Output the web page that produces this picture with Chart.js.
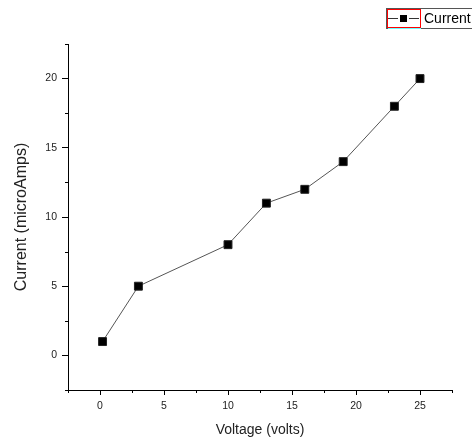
<!DOCTYPE html>
<html lang="en">
  <head>
    <meta charset="UTF-8" />
    <title>Current vs Voltage</title>
    <script src="https://cdn.jsdelivr.net/npm/chart.js@4.4.0/dist/chart.umd.min.js"></script>
    <style>
      html,
      body {
        margin: 0;
        padding: 0;
        background: #fff;
      }
    </style>
  </head>
  <body>
    <div style="width: 472px; height: 443px">
      <canvas id="iv-curve"></canvas>
    </div>
    <script>
      const voltage = [0.2, 3, 10, 13, 16, 19, 23, 25];
      const current = [1, 5, 8, 11, 12, 14, 18, 20];
      const xTicks = [0, 5, 10, 15, 20, 25];
      const yTicks = [0, 5, 10, 15, 20];
      const seriesName = 'Current';

      const points = voltage.map((v, i) => ({ x: v, y: current[i] }));

      // minor ticks half way between the labelled ones + the legend box
      const extras = {
        id: 'extras',
        afterDraw(chart) {
          const ctx = chart.ctx;
          const xs = chart.scales.x;
          const ys = chart.scales.y;
          const area = chart.chartArea;
          ctx.save();
          ctx.strokeStyle = '#000';
          ctx.lineWidth = 1;
          ctx.beginPath();
          for (let v = xs.min; v <= xs.max + 0.01; v += 5) {
            const px = Math.round(xs.getPixelForValue(v)) + 0.5;
            ctx.moveTo(px, area.bottom);
            ctx.lineTo(px, area.bottom + 3);
          }
          for (let v = ys.min; v <= ys.max + 0.01; v += 5) {
            const py = Math.round(ys.getPixelForValue(v)) + 0.5;
            ctx.moveTo(area.left, py);
            ctx.lineTo(area.left - 3, py);
          }
          ctx.stroke();

          // legend
          ctx.strokeStyle = '#555';
          ctx.strokeRect(386.5, 8.5, 92, 20);
          ctx.strokeStyle = '#ff0000';
          ctx.strokeRect(387.5, 9.5, 33, 18);
          ctx.strokeStyle = '#66ffff';
          ctx.beginPath();
          ctx.moveTo(388, 28.5);
          ctx.lineTo(421, 28.5);
          ctx.stroke();
          ctx.strokeStyle = '#333';
          ctx.beginPath();
          ctx.moveTo(388, 18.5);
          ctx.lineTo(398, 18.5);
          ctx.moveTo(409, 18.5);
          ctx.lineTo(419, 18.5);
          ctx.stroke();
          ctx.fillStyle = '#000';
          ctx.fillRect(400, 15, 7, 7);
          ctx.font = '14px "Liberation Sans", Arial';
          ctx.textBaseline = 'middle';
          ctx.fillText(seriesName, 424, 19);
          ctx.restore();
        },
      };

      new Chart(document.getElementById('iv-curve'), {
        type: 'scatter',
        data: {
          datasets: [
            {
              label: seriesName,
              data: points,
              showLine: true,
              borderColor: '#555',
              borderWidth: 1,
              pointStyle: 'rect',
              pointRadius: 5.6,
              pointHoverRadius: 5.6,
              pointBackgroundColor: '#000',
              pointBorderColor: '#222',
              pointBorderWidth: 1,
            },
          ],
        },
        options: {
          responsive: true,
          maintainAspectRatio: false,
          animation: false,
          layout: { padding: { top: 44, right: 20, left: 0, bottom: 0 } },
          plugins: {
            legend: { display: false },
            tooltip: { enabled: false },
          },
          scales: {
            x: {
              type: 'linear',
              min: -2.5,
              max: 27.5,
              afterFit: (s) => {
                s.height = 53;
              },
              afterBuildTicks: (s) => {
                s.ticks = xTicks.map((v) => ({ value: v }));
              },
              border: { display: true, color: '#000', width: 1 },
              grid: {
                display: true,
                drawOnChartArea: false,
                drawTicks: true,
                tickLength: 5,
                tickColor: '#000',
              },
              ticks: {
                padding: 5,
                color: '#222',
                font: { family: '"Liberation Sans", Arial', size: 10.5 },
                maxRotation: 0,
              },
              title: {
                display: true,
                text: 'Voltage (volts)',
                color: '#222',
                padding: { top: 0, bottom: 4 },
                font: { family: '"Liberation Sans", Arial', size: 14 },
              },
            },
            y: {
              type: 'linear',
              min: -2.5,
              max: 22.5,
              afterFit: (s) => {
                s.width = 68;
              },
              afterBuildTicks: (s) => {
                s.ticks = yTicks.map((v) => ({ value: v }));
              },
              border: { display: true, color: '#000', width: 1 },
              grid: {
                display: true,
                drawOnChartArea: false,
                drawTicks: true,
                tickLength: 6,
                tickColor: '#000',
              },
              ticks: {
                padding: 5,
                color: '#222',
                font: { family: '"Liberation Sans", Arial', size: 10.5 },
              },
              title: {
                display: true,
                text: 'Current (microAmps)',
                color: '#222',
                padding: { top: 12, bottom: 0 },
                font: { family: '"Liberation Sans", Arial', size: 16 },
              },
            },
          },
        },
        plugins: [extras],
      });
    </script>
  </body>
</html>
